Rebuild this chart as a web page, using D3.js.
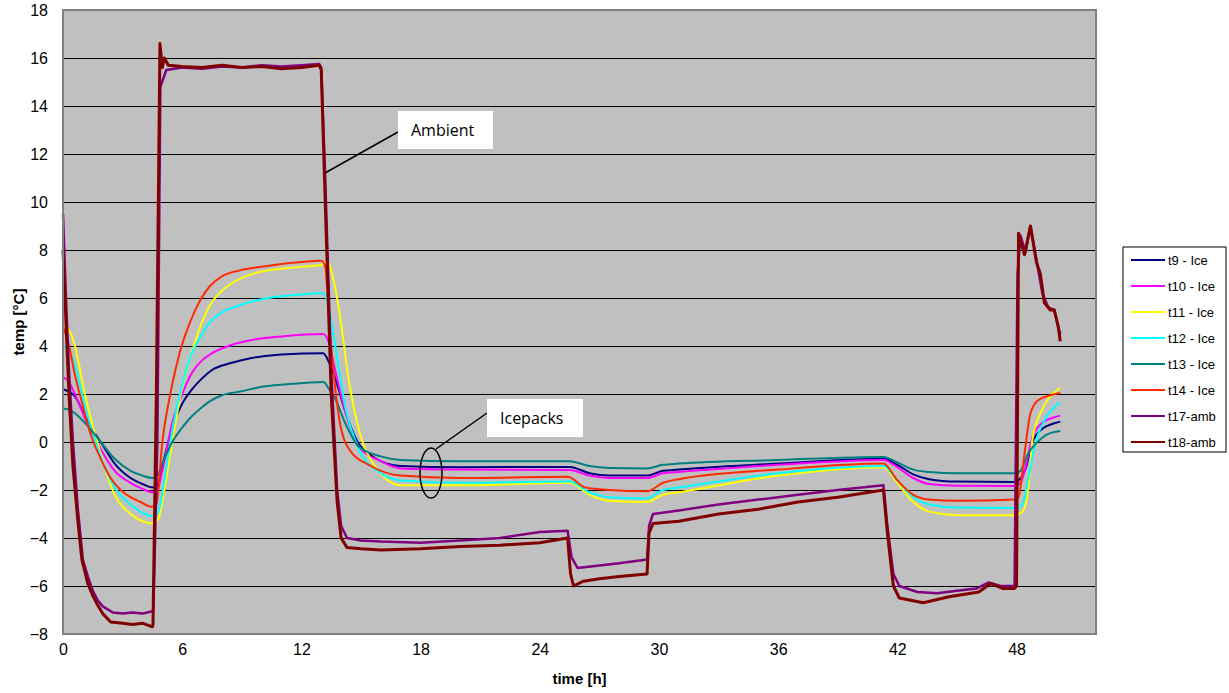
<!DOCTYPE html>
<html>
<head>
<meta charset="utf-8">
<script src="https://cdn.jsdelivr.net/npm/d3@7"></script>
<style>
  body { margin: 0; background: #fff; }
  text { font-family: "Liberation Sans", Arial, sans-serif; }
</style>
</head>
<body>
<div id="chart-area"></div>
<script>
// Data: [time h, temp °C]
let t9 = [[0,2.2],[0.3,2.1],[0.6,1.9],[1.1,1.1],[1.5,0.5],[1.9,0],[2.6,-0.9],[3.4,-1.5],[4.0,-1.75],[4.5,-1.9],[4.75,-1.8],[5.0,-1.0],[5.5,0.6],[6.0,1.6],[6.5,2.2],[7.0,2.65],[7.5,3.0],[8.5,3.3],[9.5,3.5],[11,3.65],[13.1,3.7],[13.4,3.3],[13.8,2.4],[14.2,1.3],[14.9,-0.1],[15.5,-0.55],[16,-0.8],[17,-1.0],[20,-1.05],[25.5,-1.04],[26.5,-1.3],[27.5,-1.4],[29.4,-1.4],[30.2,-1.2],[31,-1.15],[36,-0.9],[41.3,-0.7],[42,-0.95],[42.8,-1.35],[43.6,-1.55],[45,-1.65],[47.9,-1.67],[48.1,-1.6],[48.5,-1.0],[48.8,0],[49.3,0.55],[49.8,0.75],[50.2,0.85]];
let t10 = [[0,2.7],[0.3,2.5],[0.6,2.0],[1.1,1.0],[1.9,-0.3],[2.6,-1.2],[3.4,-1.7],[4.0,-1.95],[4.5,-2.1],[4.75,-2.0],[5.0,-1.2],[5.5,0.8],[6.0,2.0],[6.5,2.9],[7.0,3.4],[7.5,3.7],[8.5,4.05],[9.5,4.25],[11,4.4],[13.1,4.5],[13.4,4.1],[13.7,3.0],[14.2,1.3],[14.9,-0.2],[16,-0.8],[17,-1.1],[20,-1.15],[25.5,-1.17],[26.5,-1.4],[27.5,-1.5],[29.4,-1.5],[30.2,-1.3],[31,-1.25],[36,-0.95],[41.3,-0.75],[42,-1.05],[42.8,-1.5],[43.6,-1.75],[45,-1.82],[47.9,-1.83],[48.2,-1.7],[48.5,-0.9],[48.8,0.2],[49.3,0.8],[49.8,1.0],[50.2,1.1]];
let t11 = [[0,4.8],[0.35,4.6],[0.6,4.0],[1.1,2.0],[1.9,-0.5],[2.6,-2.2],[3.4,-3.0],[4.0,-3.3],[4.5,-3.4],[4.8,-3.2],[5.1,-2.0],[5.5,0],[6.0,2.3],[6.4,3.5],[7.0,5.0],[7.4,5.7],[8.0,6.3],[8.9,6.8],[10,7.1],[12,7.3],[13.1,7.4],[13.3,7.5],[13.6,6.8],[13.9,5.5],[14.4,2.5],[14.9,0.5],[15.7,-1.0],[17,-1.8],[20,-1.8],[25.5,-1.7],[26.5,-2.2],[27.5,-2.45],[29.4,-2.5],[30.2,-2.2],[31,-2.1],[36,-1.4],[41.3,-1.05],[42,-1.7],[42.8,-2.5],[43.6,-2.9],[45,-3.05],[47.9,-3.05],[48.3,-2.9],[48.6,-1.9],[48.8,0.1],[49.2,1.2],[49.7,1.9],[50.2,2.25]];
let t12 = [[0,4.0],[0.3,3.8],[0.6,3.2],[1.1,1.5],[1.9,-0.6],[2.6,-1.9],[3.4,-2.6],[4.0,-2.95],[4.5,-3.1],[4.8,-2.9],[5.1,-1.6],[5.5,0.5],[6.0,2.4],[6.4,3.5],[7.0,4.5],[7.4,5.0],[8.0,5.4],[8.9,5.7],[10,5.95],[12,6.15],[13.1,6.2],[13.4,5.5],[13.7,4.0],[14.2,1.5],[14.9,-0.3],[16,-1.3],[17,-1.6],[20,-1.7],[25.5,-1.65],[26.5,-2.1],[27.5,-2.3],[29.4,-2.35],[30.2,-2.0],[31,-1.9],[36,-1.3],[41.3,-1.0],[42,-1.6],[42.8,-2.3],[43.6,-2.6],[45,-2.73],[47.9,-2.75],[48.3,-2.6],[48.6,-1.45],[49.0,0.1],[49.5,1.04],[49.9,1.45],[50.2,1.67]];
let t13 = [[0,1.4],[0.3,1.35],[0.6,1.2],[1.1,0.8],[1.9,0],[2.6,-0.7],[3.4,-1.2],[4.0,-1.4],[4.5,-1.5],[4.75,-1.4],[5.0,-0.9],[5.5,0],[6.0,0.6],[6.4,1.0],[7.0,1.45],[7.4,1.7],[8.0,1.95],[8.9,2.1],[10,2.3],[12,2.45],[13.1,2.5],[13.4,2.2],[13.7,1.8],[14.2,0.8],[14.9,-0.2],[16,-0.6],[17,-0.75],[20,-0.8],[25.5,-0.8],[26.5,-1.0],[27.5,-1.08],[29.4,-1.1],[30.2,-0.95],[31,-0.9],[36,-0.75],[41.3,-0.62],[42,-0.85],[42.8,-1.15],[43.6,-1.25],[45,-1.3],[47.9,-1.3],[48.2,-1.2],[48.6,-0.46],[49.0,-0.04],[49.5,0.3],[50.2,0.46]];
let t14 = [[0,4.8],[0.25,4.2],[0.6,2.8],[1.0,1.5],[1.4,0.3],[1.9,-0.7],[2.4,-1.5],[2.9,-2.0],[3.4,-2.3],[3.9,-2.5],[4.5,-2.7],[4.7,-2.6],[5.0,0],[5.4,2.0],[5.9,3.8],[6.4,5.0],[6.9,5.9],[7.4,6.5],[8.0,6.9],[8.9,7.15],[10,7.3],[12,7.5],[13.0,7.55],[13.2,7.3],[13.4,5.0],[13.9,1.0],[14.4,-0.3],[15.5,-1.0],[17,-1.4],[20,-1.5],[25.4,-1.45],[26.3,-1.9],[27.5,-2.0],[29.4,-2.05],[30.2,-1.7],[31,-1.55],[36,-1.15],[41.3,-0.9],[42,-1.6],[42.8,-2.2],[43.6,-2.4],[45,-2.45],[47.9,-2.4],[48.1,-2.3],[48.4,-0.5],[48.7,1.2],[49.1,1.75],[49.7,1.95],[50.2,2.04]];
let t17 = [[0,9.5],[0.15,6],[0.3,3],[0.5,0],[0.75,-2.8],[1.0,-4.9],[1.25,-5.6],[1.5,-6.2],[1.75,-6.6],[2.0,-6.85],[2.5,-7.1],[3,-7.15],[3.5,-7.1],[4,-7.15],[4.5,-7.05],[4.55,-7.0],[4.75,0],[4.9,14.8],[5.2,15.5],[6,15.6],[7,15.55],[8,15.65],[9,15.6],[10,15.7],[11,15.65],[12,15.7],[12.9,15.75],[13.0,15.6],[13.2,11],[13.5,3],[13.8,-2],[14.0,-3.5],[14.3,-4.0],[15,-4.1],[16,-4.15],[18,-4.2],[20,-4.1],[22,-4.0],[24,-3.75],[25.4,-3.7],[25.6,-4.8],[25.9,-5.25],[27,-5.15],[28,-5.05],[29.4,-4.9],[29.5,-3.5],[29.7,-3.0],[31,-2.85],[33,-2.6],[35,-2.4],[37,-2.2],[39,-2.0],[41.3,-1.8],[41.5,-3.5],[41.8,-5.5],[42.1,-6.0],[43,-6.25],[44,-6.3],[45,-6.2],[46,-6.1],[46.6,-5.85],[47.2,-6.0],[47.9,-6.0],[48.05,7.0],[48.2,8.6],[48.45,7.9],[48.7,9.0],[49.0,7.6],[49.3,6.2],[49.6,5.6],[49.9,5.5],[50.1,4.8],[50.2,4.5]];
let t18 = [[0,8.0],[0.15,5.0],[0.3,2.0],[0.5,-1.0],[0.75,-3.3],[0.95,-4.9],[1.25,-5.9],[1.5,-6.4],[1.75,-6.8],[2.0,-7.15],[2.4,-7.5],[3,-7.55],[3.5,-7.6],[4,-7.55],[4.5,-7.7],[4.53,-7.6],[4.7,2],[4.88,16.6],[5.0,15.6],[5.1,16.0],[5.3,15.7],[6,15.65],[7,15.6],[8,15.7],[9,15.6],[10,15.65],[11,15.55],[12,15.6],[12.9,15.7],[13.0,15.5],[13.2,10],[13.5,2],[13.8,-2.5],[14.0,-4.0],[14.3,-4.4],[15,-4.45],[16,-4.5],[18,-4.45],[20,-4.35],[22,-4.3],[24,-4.2],[25.4,-4.0],[25.55,-5.5],[25.7,-6.0],[26.2,-5.8],[27,-5.7],[28,-5.6],[29.4,-5.5],[29.5,-3.8],[29.7,-3.4],[31,-3.3],[33,-3.0],[35,-2.8],[37,-2.5],[39,-2.3],[41.3,-2.0],[41.5,-3.8],[41.8,-6.0],[42.1,-6.5],[43.3,-6.7],[44.6,-6.45],[46.1,-6.25],[46.7,-5.9],[47.3,-6.1],[47.9,-6.1],[48.0,-6.0],[48.1,8.7],[48.4,7.8],[48.7,9.0],[49.0,7.5],[49.2,7.0],[49.4,5.8],[49.7,5.5],[49.9,5.5],[50.1,4.8],[50.2,4.2]];

let seriesNames = ['t9 - Ice', 't10 - Ice', 't11 - Ice', 't12 - Ice', 't13 - Ice', 't14 - Ice', 't17-amb', 't18-amb'];
let seriesData = [t9, t10, t11, t12, t13, t14, t17, t18];
let colors = ['#000080', '#ff00ff', '#ffff00', '#00ffff', '#008080', '#ff2a00', '#800080', '#800000'];
let xTicks = [0, 6, 12, 18, 24, 30, 36, 42, 48];
let yTicks = [-8, -6, -4, -2, 0, 2, 4, 6, 8, 10, 12, 14, 16, 18];

// SVG drawing area
let margin = { top: 10, right: 133, bottom: 59, left: 63 };
let width = 1229 - margin.left - margin.right,
  height = 693 - margin.top - margin.bottom;

let root = d3.select('#chart-area')
  .append('svg')
  .attr('width', 1229)
  .attr('height', 693);

let svg = root.append('g')
  .attr('transform', 'translate(' + margin.left + ',' + margin.top + ')');

// Scales
let x = d3.scaleLinear().domain([0, 52]).range([0, width]);
let y = d3.scaleLinear().domain([-8, 18]).range([height, 0]);

// plot background
svg.append('rect')
  .attr('width', width)
  .attr('height', height)
  .attr('fill', '#c0c0c0');

// gridlines
svg.append('g')
  .selectAll('line')
  .data(yTicks.slice(1, -1))
  .enter()
  .append('line')
  .attr('x1', 0)
  .attr('x2', width)
  .attr('y1', d => y(d) + 0.5)
  .attr('y2', d => y(d) + 0.5)
  .attr('stroke', '#000')
  .attr('stroke-width', 1);

// lines
let line = d3.line().x(d => x(d[0])).y(d => y(d[1]));
let smooth = d3.line().curve(d3.curveMonotoneX).x(d => x(d[0])).y(d => y(d[1]));

svg.append('g')
  .selectAll('path')
  .data(seriesData)
  .enter()
  .append('path')
  .attr('d', (d, i) => i < 6 ? smooth(d) : line(d))
  .attr('fill', 'none')
  .attr('stroke', (d, i) => colors[i])
  .attr('stroke-width', (d, i) => i == 7 ? 3 : (i == 6 ? 2.5 : 2))
  .attr('stroke-linejoin', 'round');

// plot border
svg.append('rect')
  .attr('width', width)
  .attr('height', height)
  .attr('fill', 'none')
  .attr('stroke', '#808080')
  .attr('stroke-width', 2);

// Axis
let xAxis = d3.axisBottom(x).tickValues(xTicks).tickSize(0).tickPadding(10);
let xSvg = svg.append('g')
  .attr('transform', 'translate(0,' + height + ')')
  .call(xAxis);
xSvg.select('.domain').remove();
xSvg.selectAll('text').style('font-size', '16px').attr('fill', '#000');

let yAxis = d3.axisLeft(y).tickValues(yTicks).tickSize(0).tickPadding(15);
let ySvg = svg.append('g').call(yAxis);
ySvg.select('.domain').remove();
ySvg.selectAll('text').style('font-size', '16px').attr('fill', '#000');

// axis titles
root.append('text')
  .attr('x', margin.left + width / 2)
  .attr('y', 684)
  .attr('text-anchor', 'middle')
  .style('font-size', '15px')
  .style('font-weight', 'bold')
  .text('time [h]');

root.append('text')
  .attr('transform', 'translate(24,' + (margin.top + height / 2) + ') rotate(-90)')
  .attr('text-anchor', 'middle')
  .style('font-size', '15px')
  .style('font-weight', 'bold')
  .text('temp [°C]');

// annotations
function callout(bx, by, bw, bh, label, lx1, ly1, lx2, ly2) {
  root.append('line')
    .attr('x1', lx1).attr('y1', ly1).attr('x2', lx2).attr('y2', ly2)
    .attr('stroke', '#000').attr('stroke-width', 1.5);
  root.append('rect')
    .attr('x', bx).attr('y', by).attr('width', bw).attr('height', bh)
    .attr('fill', '#fff');
  root.append('text')
    .attr('x', bx + 13).attr('y', by + 25)
    .style('font-family', '"Open Sans", sans-serif')
    .style('font-size', '16px')
    .text(label);
}
callout(398, 111, 95, 38, 'Ambient', 398, 132, 325, 173);
callout(487, 399, 96, 38, 'Icepacks', 487, 413, 436, 449);
root.append('ellipse')
  .attr('cx', 431).attr('cy', 473).attr('rx', 11).attr('ry', 25)
  .attr('fill', 'none').attr('stroke', '#000').attr('stroke-width', 1.5);

// legend
let legend = root.append('g').attr('transform', 'translate(1123,247)');
legend.append('rect')
  .attr('width', 103).attr('height', 205)
  .attr('fill', '#fff').attr('stroke', '#000').attr('stroke-width', 1);
let items = legend.selectAll('.item')
  .data(seriesNames)
  .enter()
  .append('g')
  .attr('class', 'item')
  .attr('transform', (d, i) => 'translate(0,' + (13 + i * 26) + ')');
items.append('line')
  .attr('x1', 8).attr('x2', 42)
  .attr('stroke', (d, i) => colors[i])
  .attr('stroke-width', 2);
items.append('text')
  .attr('x', 45).attr('y', 5)
  .style('font-size', '13px')
  .text(d => d);
</script>
</body>
</html>
